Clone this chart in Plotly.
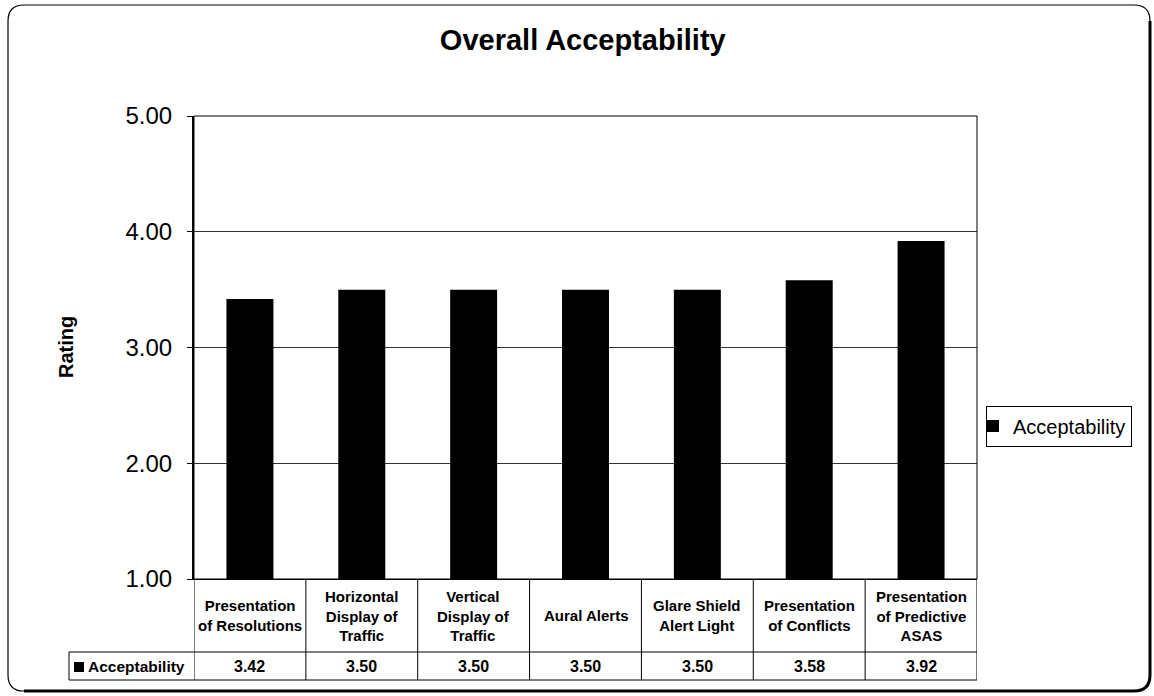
import plotly.graph_objects as go

# ---------------- data ----------------
categories = [
    "Presentation of Resolutions",
    "Horizontal Display of Traffic",
    "Vertical Display of Traffic",
    "Aural Alerts",
    "Glare Shield Alert Light",
    "Presentation of Conflicts",
    "Presentation of Predictive ASAS",
]
category_labels = [
    "Presentation<br>of Resolutions",
    "Horizontal<br>Display of<br>Traffic",
    "Vertical<br>Display of<br>Traffic",
    "Aural Alerts",
    "Glare Shield<br>Alert Light",
    "Presentation<br>of Conflicts",
    "Presentation<br>of Predictive<br>ASAS",
]
acceptability = [3.42, 3.50, 3.50, 3.50, 3.50, 3.58, 3.92]
series_name = "Acceptability"
y_ticks = [1, 2, 3, 4, 5]
title_text = "Overall Acceptability"
y_title = "Rating"

# ---------------- layout helpers ----------------
W, H = 1154, 696
FONT = "Liberation Sans, Arial, Helvetica, sans-serif"


def px(x):
    return x / W


def py(y):
    return 1 - y / H


PL, PR, PT, PB = 194, 977, 116, 579       # plot area in pixels
ROW1, ROW2 = 652, 680                      # table row boundaries
LABEL_LEFT = 69

fig = go.Figure()
fig.add_trace(go.Bar(
    x=categories, y=acceptability, name=series_name,
    marker=dict(color="black", line=dict(width=0)),
    width=0.42, showlegend=True,
))

shapes = []
annotations = []

# plot border
shapes.append(dict(type="rect", xref="paper", yref="paper",
                   x0=px(PL), x1=px(PR), y0=py(PB), y1=py(PT),
                   line=dict(color="black", width=1), layer="above"))

# table lines
n = len(categories)
for i in range(n + 1):
    shapes.append(dict(type="line", xref="x", yref="paper",
                       x0=i - 0.5, x1=i - 0.5, y0=py(ROW2), y1=py(PB),
                       line=dict(color="black", width=1)))
for yy in (ROW1, ROW2):
    shapes.append(dict(type="line", xref="paper", yref="paper",
                       x0=px(LABEL_LEFT), x1=px(PR), y0=py(yy), y1=py(yy),
                       line=dict(color="black", width=1)))
shapes.append(dict(type="line", xref="paper", yref="paper",
                   x0=px(LABEL_LEFT), x1=px(LABEL_LEFT), y0=py(ROW2), y1=py(ROW1),
                   line=dict(color="black", width=1)))
# legend key in table
shapes.append(dict(type="rect", xref="paper", yref="paper",
                   x0=px(74), x1=px(84), y0=py(672), y1=py(662),
                   fillcolor="black", line=dict(width=0)))

# table text
for cat, lab, val in zip(categories, category_labels, acceptability):
    annotations.append(dict(xref="x", yref="paper", x=cat, y=py((PB + ROW1) / 2),
                            text="<b>" + lab + "</b>", showarrow=False,
                            font=dict(size=15, family=FONT, color="black"),
                            xanchor="center", yanchor="middle", align="center"))
    annotations.append(dict(xref="x", yref="paper", x=cat, y=py((ROW1 + ROW2) / 2),
                            text="<b>%.2f</b>" % val, showarrow=False,
                            font=dict(size=16, family=FONT, color="black"),
                            xanchor="center", yanchor="middle"))
annotations.append(dict(xref="paper", yref="paper", x=px(86), y=py((ROW1 + ROW2) / 2),
                        text="<b>" + series_name + "</b>", showarrow=False,
                        font=dict(size=15.5, family=FONT, color="black"),
                        xanchor="left", yanchor="middle"))

# y axis title
annotations.append(dict(xref="paper", yref="paper", x=px(66), y=py(347),
                        text="<b>" + y_title + "</b>", showarrow=False, textangle=-90,
                        font=dict(size=20, family=FONT, color="black"),
                        xanchor="center", yanchor="middle"))

# outer rounded frame
r = 16
x0, x1, y0, y1 = 8, 1150, 5, 691


def P(x, y):
    return "%f,%f" % (px(x), py(y))


frame = ("M " + P(x0 + r, y0) + " L " + P(x1 - r, y0) + " Q " + P(x1, y0) + " " + P(x1, y0 + r) +
         " L " + P(x1, y1 - r) + " Q " + P(x1, y1) + " " + P(x1 - r, y1) +
         " L " + P(x0 + r, y1) + " Q " + P(x0, y1) + " " + P(x0, y1 - r) +
         " L " + P(x0, y0 + r) + " Q " + P(x0, y0) + " " + P(x0 + r, y0) + " Z")
shapes.append(dict(type="path", xref="paper", yref="paper", path=frame,
                   line=dict(color="black", width=1.2)))
shadow = ("M " + P(x1, y0 + r) + " L " + P(x1, y1 - r) + " Q " + P(x1, y1) + " " + P(x1 - r, y1) +
          " L " + P(x0 + r, y1))
shapes.append(dict(type="path", xref="paper", yref="paper", path=shadow,
                   line=dict(color="black", width=3)))

fig.update_layout(
    width=W, height=H,
    margin=dict(l=0, r=0, t=0, b=0, autoexpand=False),
    paper_bgcolor="white", plot_bgcolor="white",
    font=dict(family=FONT, color="black"),
    title=dict(text="<b>" + title_text + "</b>", x=0.505, xanchor="center",
               y=py(40), yanchor="middle", yref="container",
               font=dict(size=29, family=FONT, color="black")),
    xaxis=dict(domain=[px(PL), px(PR)], range=[-0.5, n - 0.5], automargin=False,
               showticklabels=False, ticks="", showgrid=False, zeroline=False,
               showline=True, linecolor="black", linewidth=1),
    yaxis=dict(domain=[py(PB), py(PT)], range=[1, 5], tickvals=y_ticks, automargin=False,
               tickformat=".2f", ticks="outside", ticklen=5, tickcolor="black",
               ticklabelstandoff=10,
               tickfont=dict(size=24, family=FONT, color="black"),
               showgrid=True, gridcolor="#333333", gridwidth=1, zeroline=False,
               showline=True, linecolor="black", linewidth=2),
    legend=dict(x=px(986), y=py(426), xanchor="left", yanchor="middle",
                bordercolor="black", borderwidth=1, bgcolor="white",
                font=dict(size=20, family=FONT, color="black"),
                itemwidth=30, tracegroupgap=0, indentation=-14),
    shapes=shapes, annotations=annotations,
    bargap=0.58,
)

fig.write_html("out.html", config={"displayModeBar": False},
               post_script="document.body.style.margin='0';document.body.style.overflow='hidden';")
